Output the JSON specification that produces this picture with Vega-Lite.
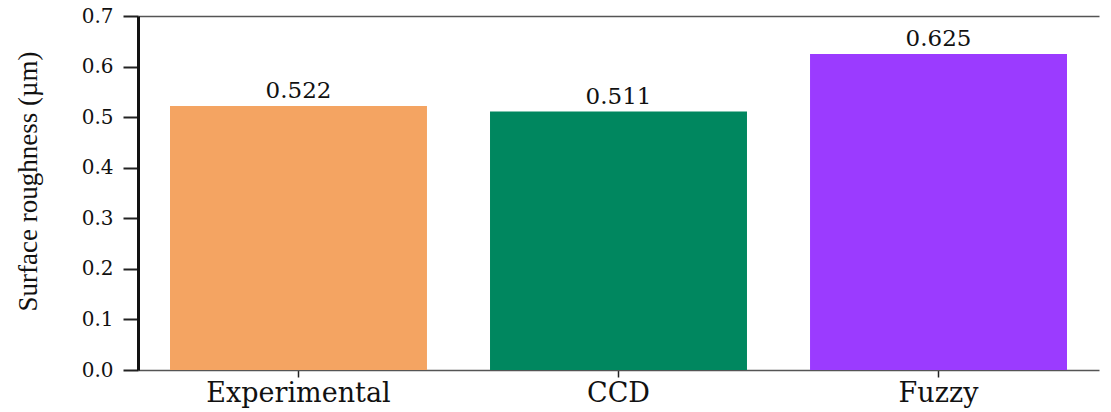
{
  "$schema": "https://vega.github.io/schema/vega-lite/v6.json",
  "width": 961,
  "height": 354,
  "autosize": {"type": "none"},
  "padding": {"left": 138, "top": 16, "right": 12, "bottom": 42},
  "background": "white",
  "config": {"view": {"stroke": null}},
  "data": {"values": [
    {"method": "Experimental", "roughness": 0.522, "label": "0.522"},
    {"method": "CCD", "roughness": 0.511, "label": "0.511"},
    {"method": "Fuzzy", "roughness": 0.625, "label": "0.625"}
  ]},
  "encoding": {
    "x": {"field": "method", "type": "nominal", "sort": null,
      "scale": {"paddingInner": 0.197, "paddingOuter": 0.1}},
    "y": {"field": "roughness", "type": "quantitative", "scale": {"domain": [0, 0.7], "nice": false}}
  },
  "layer": [
    {
      "mark": {"type": "bar"},
      "encoding": {
        "color": {"field": "method", "type": "nominal", "legend": null,
          "scale": {"domain": ["Experimental", "CCD", "Fuzzy"], "range": ["#F4A462", "#00875F", "#9B3BFF"]}},
        "x": {"field": "method", "type": "nominal", "sort": null,
          "axis": {"title": null, "orient": "bottom", "domainColor": "#555555", "domainWidth": 1.5,
            "tickColor": "#222222", "tickSize": 7, "tickWidth": 1.5, "labelAngle": 0, "labelLimit": 0,
            "labelFont": "DejaVu Serif", "labelFontSize": 27, "labelColor": "#111111", "labelPadding": 3}},
        "y": {"field": "roughness", "type": "quantitative",
          "axis": {"title": "Surface roughness (µm)", "titleFont": "Liberation Serif", "titleFontSize": 27,
            "titleFontWeight": "normal", "titleColor": "#111111",
            "titleX": -110, "titleY": 165, "titleAngle": -90, "titleAlign": "center", "titleBaseline": "middle", "titleLimit": 0,
            "values": [0, 0.05, 0.1, 0.15, 0.2, 0.25, 0.3, 0.35, 0.4, 0.45, 0.5, 0.55, 0.6, 0.65, 0.7],
            "labelExpr": "round(datum.value*100) % 10 === 0 ? format(datum.value, '.1f') : ''",
            "tickSize": {"condition": {"test": "round(datum.value*100) % 10 === 0", "value": 15}, "value": 9},
            "domainColor": "#111111", "domainWidth": 3, "tickColor": "#222222", "tickWidth": 2,
            "labelFont": "DejaVu Serif", "labelFontSize": 20, "labelColor": "#111111", "labelPadding": 10,
            "grid": false}}
      }
    },
    {
      "mark": {"type": "text", "baseline": "bottom", "dy": -3, "font": "DejaVu Serif", "fontSize": 23, "color": "#111111"},
      "encoding": {
        "text": {"field": "label"},
        "x": {"field": "method", "type": "nominal", "sort": null,
          "axis": {"orient": "top", "title": null, "labels": false, "ticks": false,
            "domainColor": "#555555", "domainWidth": 1.5}}
      }
    }
  ],
  "resolve": {"axis": {"x": "independent"}}
}
